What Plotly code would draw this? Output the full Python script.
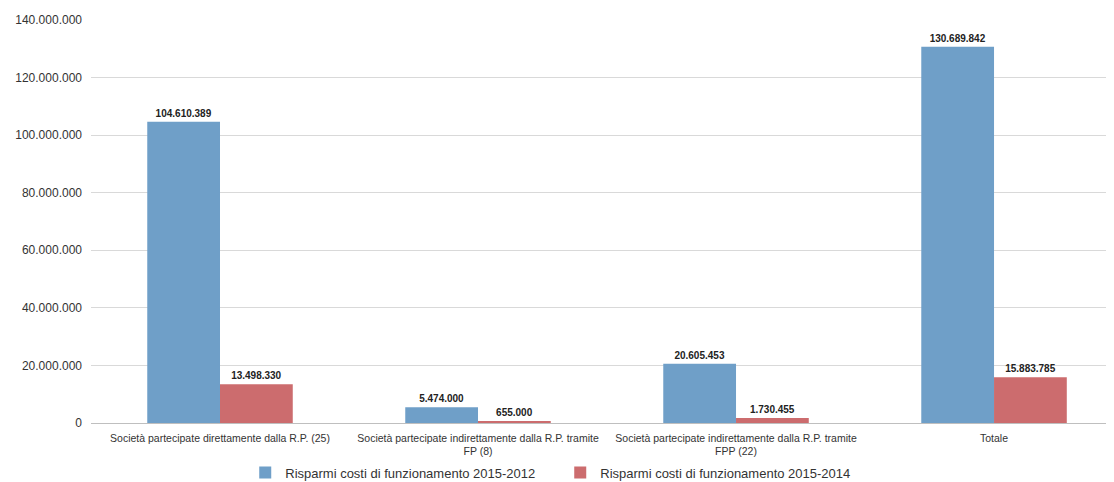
import plotly.graph_objects as go

categories = [
    "Società partecipate direttamente dalla R.P. (25)",
    "Società partecipate indirettamente dalla R.P. tramite<br>FP (8)",
    "Società partecipate indirettamente dalla R.P. tramite<br>FPP (22)",
    "Totale",
]
series_names = [
    "Risparmi costi di funzionamento 2015-2012",
    "Risparmi costi di funzionamento 2015-2014",
]
values_2015_2012 = [104610389, 5474000, 20605453, 130689842]
values_2015_2014 = [13498330, 655000, 1730455, 15883785]
tick_values = [0, 20000000, 40000000, 60000000, 80000000, 100000000, 120000000, 140000000]

font_family = "Liberation Sans, Arial, sans-serif"

fig = go.Figure()
fig.add_trace(go.Bar(
    x=categories, y=values_2015_2012, name=series_names[0],
    marker=dict(color="#6f9fc8", line=dict(width=0)),
    texttemplate="<b>%{y:,d}</b>", textposition="outside",
    textfont=dict(size=10, color="#222222", family=font_family),
    cliponaxis=False,
))
fig.add_trace(go.Bar(
    x=categories, y=values_2015_2014, name=series_names[1],
    marker=dict(color="#cc6c6e", line=dict(width=0)),
    texttemplate="<b>%{y:,d}</b>", textposition="outside",
    textfont=dict(size=10, color="#222222", family=font_family),
    cliponaxis=False,
))

fig.update_layout(
    width=1114, height=482,
    margin=dict(l=83, r=0, t=12, b=67, autoexpand=False),
    paper_bgcolor="white", plot_bgcolor="white",
    separators=",.",
    barmode="group", bargap=0.436, bargroupgap=0,
    font=dict(family=font_family, size=10, color="#333333"),
    showlegend=True,
    legend=dict(
        orientation="h", x=0.1496, xanchor="left",
        yref="container", y=0.036, yanchor="middle",
        bgcolor="rgba(0,0,0,0)",
        font=dict(size=13, color="#333333", family=font_family),
        entrywidth=270, entrywidthmode="pixels", traceorder="normal",
    ),
    xaxis=dict(
        range=[-0.5, 3.496], showgrid=False, showline=False,
        tickfont=dict(size=10.5, color="#333333"), ticks="",
        ticklabelstandoff=7,
    ),
    yaxis=dict(
        range=[0, 140000000], tickvals=tick_values, tickformat=",d",
        showgrid=True, gridcolor="#d9d9d9", gridwidth=1,
        zeroline=True, zerolinecolor="#bfbfbf", zerolinewidth=1,
        tickfont=dict(size=12, color="#333333"), ticks="",
        ticklabelstandoff=8, showline=False,
    ),
)

fig.write_html("out.html")
